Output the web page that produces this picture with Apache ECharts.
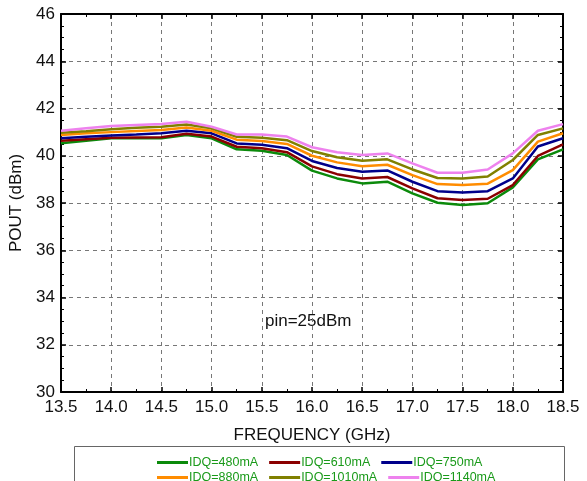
<!DOCTYPE html>
<html>
<head>
<meta charset="utf-8">
<script src="https://cdn.jsdelivr.net/npm/echarts@6/dist/echarts.min.js"></script>
<style>
  html, body { margin: 0; padding: 0; background: #fff; }
  #chart { width: 587px; height: 481px; }
</style>
</head>
<body>
<div id="chart"></div>
<script>
// frequency points (GHz)
var freq = [13.5, 13.75, 14.0, 14.25, 14.5, 14.75, 15.0, 15.25, 15.5, 15.75, 16.0,
            16.25, 16.5, 16.75, 17.0, 17.25, 17.5, 17.75, 18.0, 18.25, 18.5];

// POUT (dBm) per bias current
var idq480  = [40.53, 40.63, 40.74, 40.74, 40.74, 40.88, 40.74, 40.27, 40.21, 40.03, 39.37,
               39.04, 38.83, 38.90, 38.41, 38.01, 37.92, 37.99, 38.66, 39.85, 40.27];
var idq610  = [40.64, 40.70, 40.76, 40.77, 40.78, 40.93, 40.81, 40.38, 40.32, 40.15, 39.55,
               39.22, 39.04, 39.10, 38.62, 38.20, 38.13, 38.18, 38.76, 39.99, 40.48];
var idq750  = [40.74, 40.80, 40.86, 40.90, 40.95, 41.06, 40.95, 40.52, 40.47, 40.32, 39.78,
               39.48, 39.32, 39.38, 38.90, 38.50, 38.44, 38.50, 39.04, 40.39, 40.74];
var idq880  = [40.88, 40.95, 41.00, 41.05, 41.09, 41.20, 41.06, 40.68, 40.62, 40.50, 40.00,
               39.72, 39.56, 39.62, 39.18, 38.80, 38.76, 38.82, 39.39, 40.60, 40.95];
var idq1010 = [40.97, 41.04, 41.12, 41.18, 41.23, 41.32, 41.16, 40.80, 40.76, 40.66, 40.20,
               39.94, 39.79, 39.85, 39.42, 39.06, 39.04, 39.12, 39.82, 40.88, 41.16];
var idq1140 = [41.06, 41.16, 41.26, 41.30, 41.34, 41.44, 41.23, 40.90, 40.90, 40.81, 40.36,
               40.15, 40.03, 40.10, 39.68, 39.28, 39.28, 39.42, 40.10, 41.06, 41.34];

var seriesNames = ["IDQ=480mA", "IDQ=610mA", "IDQ=750mA", "IDQ=880mA", "IDQ=1010mA", "IDQ=1140mA"];
var seriesData = [idq480, idq610, idq750, idq880, idq1010, idq1140];
var seriesColors = ["#0b8a0b", "#8b0000", "#00008b", "#ff8c00", "#808000", "#ee82ee"];

var FONT = "Liberation Sans, Arial, sans-serif";

function pairs(ys) {
	var out = [];
	for (var i = 0; i < freq.length; i++) out.push([freq[i], ys[i]]);
	return out;
}

var chart = echarts.init(document.getElementById("chart"));

var frameLine = { show: true, lineStyle: { color: "#000", width: 2 } };
var split = { show: true, lineStyle: { color: "#777", type: [4, 4], width: 1 } };

var series = [];
for (var i = 0; i < seriesNames.length; i++) {
	series.push({
		name: seriesNames[i],
		type: "line",
		data: pairs(seriesData[i]),
		showSymbol: false,
		symbol: "none",
		lineStyle: { color: seriesColors[i], width: 2.5 },
		itemStyle: { color: seriesColors[i] },
		z: 3 + i
	});
}

var legendCommon = {
	icon: "rect",
	itemWidth: 31,
	itemHeight: 3,
	itemGap: 11,
	textStyle: { color: "#1a9a1a", fontSize: 12.5, fontFamily: FONT, padding: [0, 0, 0, -4] }
};

chart.setOption({
	animation: false,
	backgroundColor: "#fff",
	grid: { left: 61, right: 24, top: 14, bottom: 89 },
	xAxis: [
		{
			type: "value", min: 13.5, max: 18.5, interval: 0.5,
			axisLine: frameLine,
			axisTick: { show: true, inside: true, length: 5, lineStyle: { color: "#000", width: 1.5 } },
			minorTick: { show: true, splitNumber: 2, length: 3, lineStyle: { color: "#000" } },
			axisLabel: {
				formatter: function (v) { return v.toFixed(1); },
				color: "#111", fontSize: 17, fontFamily: FONT, margin: 7
			},
			splitLine: split,
			name: "FREQUENCY (GHz)", nameLocation: "middle", nameGap: 35,
			nameTextStyle: { color: "#111", fontSize: 17, fontFamily: FONT }
		},
		{
			type: "value", position: "top", min: 13.5, max: 18.5, interval: 0.5,
			axisLine: frameLine,
			axisTick: { show: true, inside: true, length: 5, lineStyle: { color: "#000", width: 1.5 } },
			minorTick: { show: true, splitNumber: 2, length: 3, lineStyle: { color: "#000" } },
			axisLabel: { show: false }, splitLine: { show: false }
		}
	],
	yAxis: [
		{
			type: "value", min: 30, max: 46, interval: 2,
			axisLine: frameLine,
			axisTick: { show: true, inside: true, length: 5, lineStyle: { color: "#000", width: 1.5 } },
			minorTick: { show: true, splitNumber: 4, length: 3, lineStyle: { color: "#000" } },
			axisLabel: { color: "#111", fontSize: 17, fontFamily: FONT, margin: 6 },
			splitLine: split,
			name: "POUT (dBm)", nameLocation: "middle", nameGap: 33,
			nameTextStyle: { color: "#111", fontSize: 17, fontFamily: FONT }
		},
		{
			type: "value", position: "right", min: 30, max: 46, interval: 2,
			axisLine: frameLine,
			axisTick: { show: true, inside: true, length: 5, lineStyle: { color: "#000", width: 1.5 } },
			minorTick: { show: true, splitNumber: 4, length: 3, lineStyle: { color: "#000" } },
			axisLabel: { show: false }, splitLine: { show: false }
		}
	],
	legend: [
		Object.assign({ data: seriesNames.slice(0, 3), left: 152, top: 451 }, legendCommon),
		Object.assign({ data: seriesNames.slice(3, 6), left: 152, top: 466 }, legendCommon)
	],
	graphic: [
		{
			type: "rect", left: 72, top: 444,
			shape: { width: 490, height: 42 },
			style: { fill: "none", stroke: "#666", lineWidth: 1 },
			silent: true
		},
		{
			type: "text", left: 265, top: 313,
			style: { text: "pin=25dBm", fill: "#111", font: "17px " + FONT }
		}
	],
	series: series
});
</script>
</body>
</html>
